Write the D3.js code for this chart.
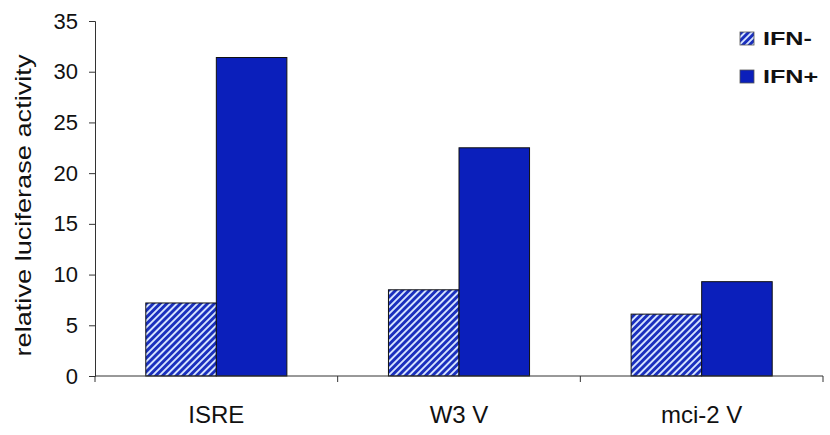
<!DOCTYPE html>
<html><head><meta charset="utf-8">
<script src="https://cdn.jsdelivr.net/npm/d3@7"></script>
<style>body{margin:0;background:#fff}svg{display:block}text{font-family:"Liberation Sans",Arial,sans-serif;fill:#111}</style>
</head><body>
<script>
const categories = ["ISRE", "W3 V", "mci-2 V"];
const seriesNames = ["IFN-", "IFN+"];
const ifnMinus = [7.2, 8.5, 6.1];
const ifnPlus = [31.4, 22.5, 9.3];
const yTicks = [0, 5, 10, 15, 20, 25, 30, 35];

const W = 830, H = 435;
const m = {left: 95, right: 7, top: 21, bottom: 59};
const svg = d3.select("body").append("svg").attr("width", W).attr("height", H);
const defs = svg.append("defs");
const pat = defs.append("pattern").attr("id", "hatch").attr("patternUnits", "userSpaceOnUse")
  .attr("width", 4.8).attr("height", 4.8).attr("patternTransform", "rotate(45)");
pat.append("rect").attr("width", 4.8).attr("height", 4.8).attr("fill", "#d6e4ff");
pat.append("rect").attr("width", 2.9).attr("height", 4.8).attr("fill", "#1a2fbd");

const x0 = d3.scaleBand().domain(categories).range([m.left, W - m.right]).paddingInner(0).paddingOuter(0);
const x1 = d3.scaleBand().domain(seriesNames).range([0, x0.bandwidth()]).paddingOuter(0.72).paddingInner(0);
const y = d3.scaleLinear().domain([0, 35]).range([H - m.bottom, m.top]);

const fills = {"IFN-": "url(#hatch)", "IFN+": "#0b1fbb"};
const data = categories.map((c, i) => ({c, vals: [{s: "IFN-", v: ifnMinus[i]}, {s: "IFN+", v: ifnPlus[i]}]}));

const g = svg.append("g");
g.selectAll("g.grp").data(data).join("g").attr("class", "grp")
  .attr("transform", d => `translate(${x0(d.c)},0)`)
  .selectAll("rect").data(d => d.vals).join("rect")
  .attr("x", d => x1(d.s)).attr("width", x1.bandwidth())
  .attr("y", d => y(d.v)).attr("height", d => y(0) - y(d.v))
  .attr("fill", d => fills[d.s]).attr("stroke", "#111").attr("stroke-width", 1);

// y axis
const ya = svg.append("g").attr("transform", `translate(${m.left},0)`)
  .call(d3.axisLeft(y).tickValues(yTicks).tickSize(6).tickPadding(11));
ya.select(".domain").attr("stroke", "#333");
ya.selectAll(".tick line").attr("stroke", "#333");
ya.selectAll(".tick text").style("font-size", "22px").attr("fill", "#111");

// x axis
const xa = svg.append("g").attr("transform", `translate(0,${y(0)})`);
xa.append("line").attr("x1", m.left).attr("x2", W - m.right).attr("stroke", "#333");
const bounds = categories.map(c => x0(c)).concat([x0(categories[2]) + x0.bandwidth()]);
xa.selectAll("line.tk").data(bounds).join("line").attr("class", "tk")
  .attr("x1", d => d).attr("x2", d => d).attr("y1", 0).attr("y2", 6).attr("stroke", "#333");
xa.selectAll("text").data(categories).join("text")
  .attr("x", d => x0(d) + x0.bandwidth() / 2).attr("y", 47)
  .attr("text-anchor", "middle").style("font-size", "24px").text(d => d);

// y label
svg.append("text").attr("transform", `translate(31,${(y(0) + y(35)) / 2 + 7}) rotate(-90)`)
  .attr("text-anchor", "middle").style("font-size", "22px")
  .attr("textLength", 302).attr("lengthAdjust", "spacingAndGlyphs")
  .text("relative luciferase activity");

// legend
const lg = svg.append("g").attr("transform", "translate(740,32)");
seriesNames.forEach((s, i) => {
  const r = lg.append("g").attr("transform", `translate(0,${i * 38})`);
  r.append("rect").attr("width", 14).attr("height", 13).attr("fill", fills[s]).attr("stroke", "#555").attr("stroke-width", 0.8);
  r.append("text").attr("transform", "translate(23,13) scale(1.4,1)")
    .style("font-size", "18px").style("font-weight", "bold").text(s);
});
</script>
</body></html>
